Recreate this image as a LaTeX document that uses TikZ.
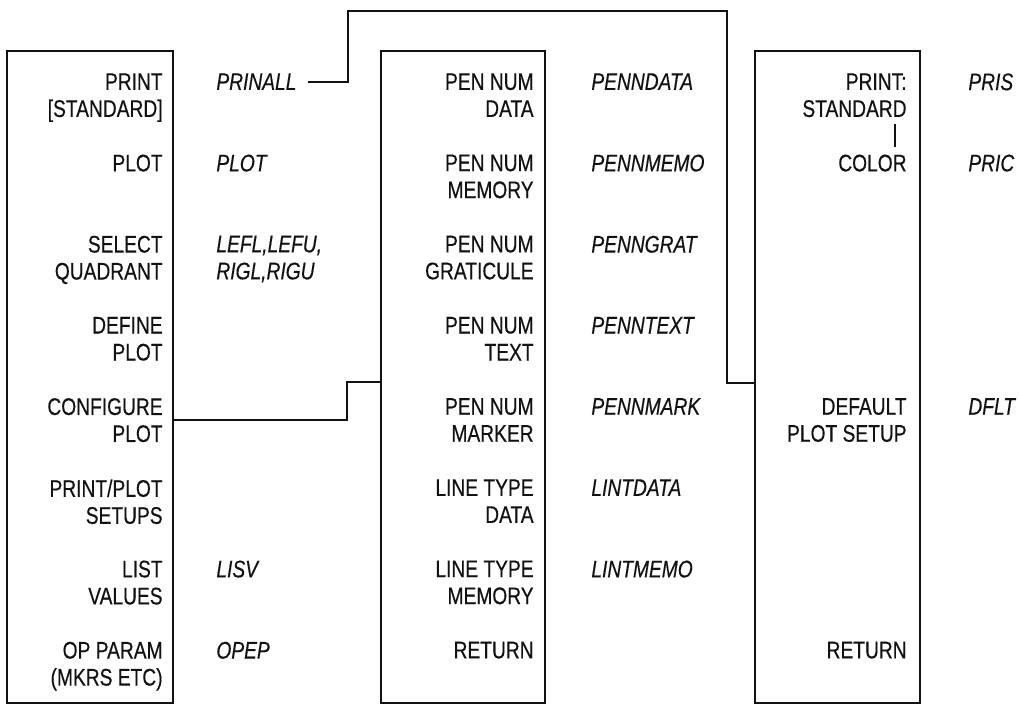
\documentclass[tikz,border=0pt]{standalone}
\usepackage{fontspec}
\usepackage{tikz}
\usetikzlibrary{calc,positioning}
\newfontfamily\panelfont[FakeStretch=0.8,FakeBold=0.4]{Liberation Sans}
\definecolor{menuInk}{RGB}{18,18,18}
\tikzset{
  menubox/.style={draw=menuInk, line width=1.4pt, rectangle, inner sep=0pt},
  menuitem/.style={anchor=north east, align=right, inner sep=0pt, text=menuInk,
    font=\panelfont\fontsize{12}{13.5}\selectfont},
  mnemonic/.style={anchor=north west, align=left, inner sep=0pt, text=menuInk,
    font=\panelfont\itshape\fontsize{12}{13.5}\selectfont},
  link/.style={draw=menuInk, line width=0.9pt}
}

\begin{document}
\begin{tikzpicture}[x=0.5pt, y=-0.5pt]
\useasboundingbox (0,0) rectangle (1019,705);

% the three menu panels
\node[menubox, minimum width=83pt, minimum height=326pt] (mainmenu) at (90,377) {};
\node[menubox, minimum width=82pt, minimum height=326pt] (penmenu) at (463,377) {};
\node[menubox, minimum width=82.5pt, minimum height=326pt] (setupmenu) at (837.5,377) {};

% main menu
\node[menuitem] (print) at (163,73) {PRINT\\{[STANDARD]}};
\node[menuitem] (plot) at (163,154.2) {PLOT};
\node[menuitem] (select) at (163,235.4) {SELECT\\QUADRANT};
\node[menuitem] (define) at (163,316.6) {DEFINE\\PLOT};
\node[menuitem] (configure) at (163,397.8) {CONFIGURE\\PLOT};
\node[menuitem] (setups) at (163,479) {PRINT/PLOT\\SETUPS};
\node[menuitem] (list) at (163,560.2) {LIST\\VALUES};
\node[menuitem] (opparam) at (163,641.4) {OP PARAM\\(MKRS ETC)};

\node[mnemonic] (prinall) at (216,73) {PRINALL};
\node[mnemonic] (plotcmd) at (216,154.2) {PLOT};
\node[mnemonic] (quadcmd) at (216,235.4) {LEFL,LEFU,\\RIGL,RIGU};
\node[mnemonic] (lisv) at (216,560.2) {LISV};
\node[mnemonic] (opep) at (216,641.4) {OPEP};

% pen number menu
\node[menuitem] (pendata) at (534,73) {PEN NUM\\DATA};
\node[menuitem] (penmemo) at (534,154.2) {PEN NUM\\MEMORY};
\node[menuitem] (pengrat) at (534,235.4) {PEN NUM\\GRATICULE};
\node[menuitem] (pentext) at (534,316.6) {PEN NUM\\TEXT};
\node[menuitem] (penmark) at (534,397.8) {PEN NUM\\MARKER};
\node[menuitem] (lintdata) at (534,479) {LINE TYPE\\DATA};
\node[menuitem] (lintmemo) at (534,560.2) {LINE TYPE\\MEMORY};
\node[menuitem] (penreturn) at (534,641.4) {RETURN};

\node[mnemonic] (penndatacmd) at (591,73) {PENNDATA};
\node[mnemonic] (pennmemocmd) at (591,154.2) {PENNMEMO};
\node[mnemonic] (penngratcmd) at (591,235.4) {PENNGRAT};
\node[mnemonic] (penntextcmd) at (591,316.6) {PENNTEXT};
\node[mnemonic] (pennmarkcmd) at (591,397.8) {PENNMARK};
\node[mnemonic] (lintdatacmd) at (591,479) {LINTDATA};
\node[mnemonic] (lintmemocmd) at (591,560.2) {LINTMEMO};

% print/plot setup menu
\node[menuitem] (prints) at (907,73) {PRINT:\\STANDARD};
\node[menuitem] (printc) at (907,154.2) {COLOR};
\node[menuitem] (default) at (907,397.8) {DEFAULT\\PLOT SETUP};
\node[menuitem] (setreturn) at (907,641.4) {RETURN};

\node[mnemonic] (pris) at (968,73) {PRIS};
\node[mnemonic] (pric) at (968,154.2) {PRIC};
\node[mnemonic] (dflt) at (968,397.8) {DFLT};

\draw[link] ([xshift=-6pt,yshift=15pt]printc.north east) -- ([xshift=-6pt,yshift=3.5pt]printc.north east);

% connectors between the panels
\coordinate (hop) at (727,383);
\coordinate (jog) at (347,382);
\draw[link] ([xshift=5.5pt]prinall.east) -| (348,11) -| (hop) -- (hop -| setupmenu.west);
\draw[link] (mainmenu.east |- configure.east) -| (jog) -- (jog -| penmenu.west);
\end{tikzpicture}
\end{document}
